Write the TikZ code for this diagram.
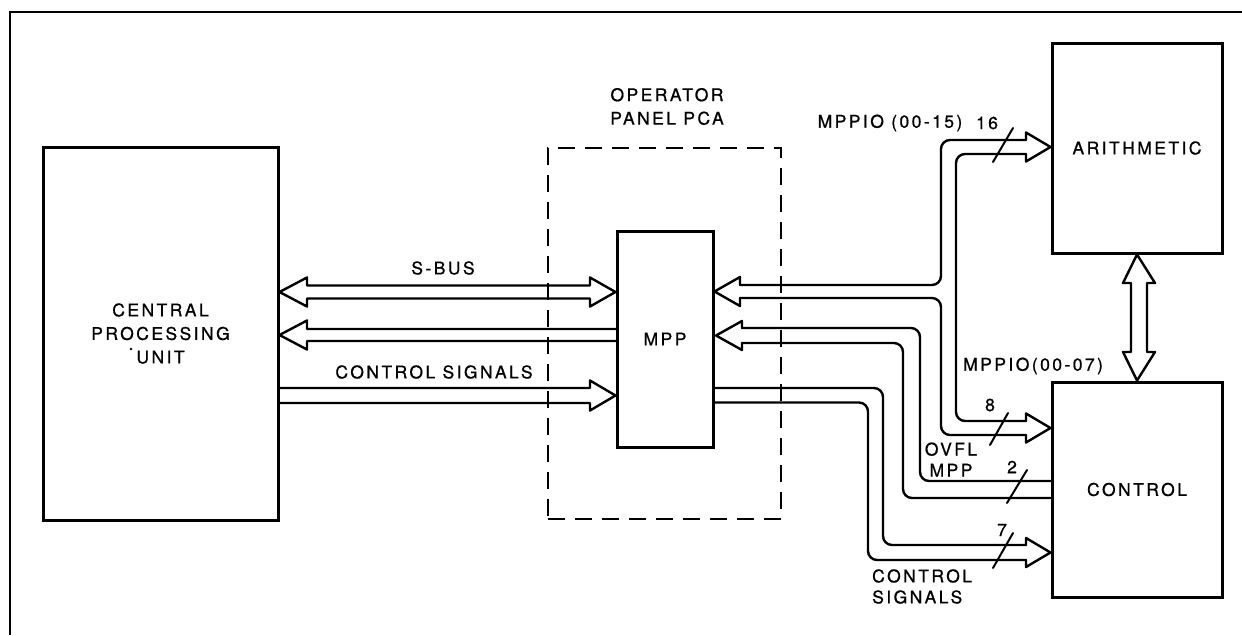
\documentclass[tikz,border=0pt]{standalone}
\usepackage{fontspec}
\setmainfont{TeX Gyre Heros}[LetterSpace=14,FakeBold=0.8]
\usetikzlibrary{calc}
\newcommand\lblfont{\fontsize{17.5pt}{23.5pt}\selectfont}
\begin{document}
\begin{tikzpicture}[x=1pt,y=-1pt,
  box/.style={draw, line width=3pt, inner sep=0pt, font=\lblfont, align=center},
  lbl/.style={inner sep=0pt, font=\lblfont, align=center},
  bus/.style={line width=2.4pt, line cap=round, line join=round},
  busbend/.style={bus, rounded corners=9pt},
  frameline/.style={line width=2.5pt},
  pcabox/.style={draw, line width=1.8pt, dash pattern=on 17pt off 10pt, inner sep=0pt},
  slashmark/.style={line width=2pt, line cap=round}]
\useasboundingbox (0,0) rectangle (1242,635);
% outer frame
\draw[frameline] (10,635) -- (10,12) -- (1242,12);
% boxes
\node[box, minimum width=235pt, minimum height=373pt] (cpu) at (160.5,333.5) {CENTRAL\\PROCESSING\\UNIT};
\fill (131,349) circle (1.4pt);
\node[pcabox, minimum width=233pt, minimum height=371pt] (pca) at (664.5,333.5) {};
\node[lbl] (pcalbl) at (667,106.5) {OPERATOR\\PANEL PCA};
\node[box, fill=white, minimum width=96pt, minimum height=216pt] (mpp) at (665,339) {MPP};
\node[box, minimum width=170pt, minimum height=210pt] (arith) at (1137,148) {ARITHMETIC};
\node[box, minimum width=170pt, minimum height=215pt] (ctrl) at (1137,489.5) {CONTROL};
% S-BUS
\draw[bus] (cpu.east |- 0,292) -- (307,277.5) -- (307,285.5) -- (590,285.5) -- (590,277.5)
  -- (mpp.west |- 0,292) -- (590,306.5) -- (590,298.5) -- (307,298.5) -- (307,306.5) -- cycle;
\node[lbl] (sbus) at (443,268) {S-BUS};
% return bus to CPU
\draw[bus] (mpp.west |- 0,329) -- (307,329) -- (307,320.5) -- (cpu.east |- 0,335)
  -- (307,349.5) -- (307,341) -- (mpp.west |- 0,341);
% control signals CPU -> MPP
\draw[bus] (cpu.east |- 0,388) -- (590,388) -- (590,380.5) -- (mpp.west |- 0,395.5)
  -- (590,410.5) -- (590,403) -- (cpu.east |- 0,403);
\node[lbl] (cslbl) at (434,372) {CONTROL SIGNALS};
% MPPIO T-bus
\draw[bus] (740,285) -- (740,277) -- (mpp.east |- 0,291.5) -- (740,306) -- (740,298);
\draw[busbend] (740,285) -- (941,285) -- (941,140) -- (1026,140);
\draw[busbend] (1026,154) -- (956,154) -- (956,421) -- (1026,421);
\draw[busbend] (1026,435) -- (941,435) -- (941,298) -- (740,298);
\draw[bus] (1026,140) -- (1026,132.5) -- (arith.west |- 0,147) -- (1026,161.5) -- (1026,154);
\draw[bus] (1026,421) -- (1026,413.5) -- (ctrl.west |- 0,428) -- (1026,442.5) -- (1026,435);
% OVFL MPP bus
\draw[bus] (742,328) -- (742,321) -- (716,335.5) -- (742,350) -- (742,343);
\draw[busbend] (742,328) -- (920,328) -- (920,481) -- (ctrl.west |- 0,481);
\draw[busbend] (742,343) -- (903,343) -- (903,498) -- (ctrl.west |- 0,498);
% control signals MPP -> CONTROL
\draw[busbend] (mpp.east |- 0,388) -- (883,388) -- (883,545) -- (1026,545);
\draw[busbend] (mpp.east |- 0,402.5) -- (868,402.5) -- (868,560) -- (1026,560);
\draw[bus] (1026,545) -- (1026,538) -- (ctrl.west |- 0,552.5) -- (1026,567) -- (1026,560);
% ARITHMETIC <-> CONTROL
\draw[bus] (1131,283) -- (1123,283) -- (arith.south) -- (1155,283) -- (1147,283) -- (1147,352)
  -- (1155,352) -- (ctrl.north) -- (1123,352) -- (1131,352) -- cycle;
% slashes and labels
\draw[slashmark] (993,162) -- (1013,128);
\draw[slashmark] (990,445) -- (1008,413);
\draw[slashmark] (1007,503) -- (1027,470);
\draw[slashmark] (993,568) -- (1013,533);
\node[lbl] (mppio16) at (890,123) {MPPIO (00-15)};
\node[lbl] (n16) at (987,123) {16};
\node[lbl, anchor=west] (mppio8) at (963,366) {MPPIO(00-07)};
\node[lbl] (n8) at (990,405) {8};
\node[lbl, font=\fontsize{17.5pt}{21pt}\selectfont] (ovfl) at (951,459.5) {OVFL\\MPP};
\node[lbl] (n2) at (1012,467) {2};
\node[lbl] (n7) at (1002,530) {7};
\node[lbl, anchor=west, align=left, font=\fontsize{17.5pt}{21pt}\selectfont] (cs2) at (872,586.5) {CONTROL\\SIGNALS};
\end{tikzpicture}
\end{document}
